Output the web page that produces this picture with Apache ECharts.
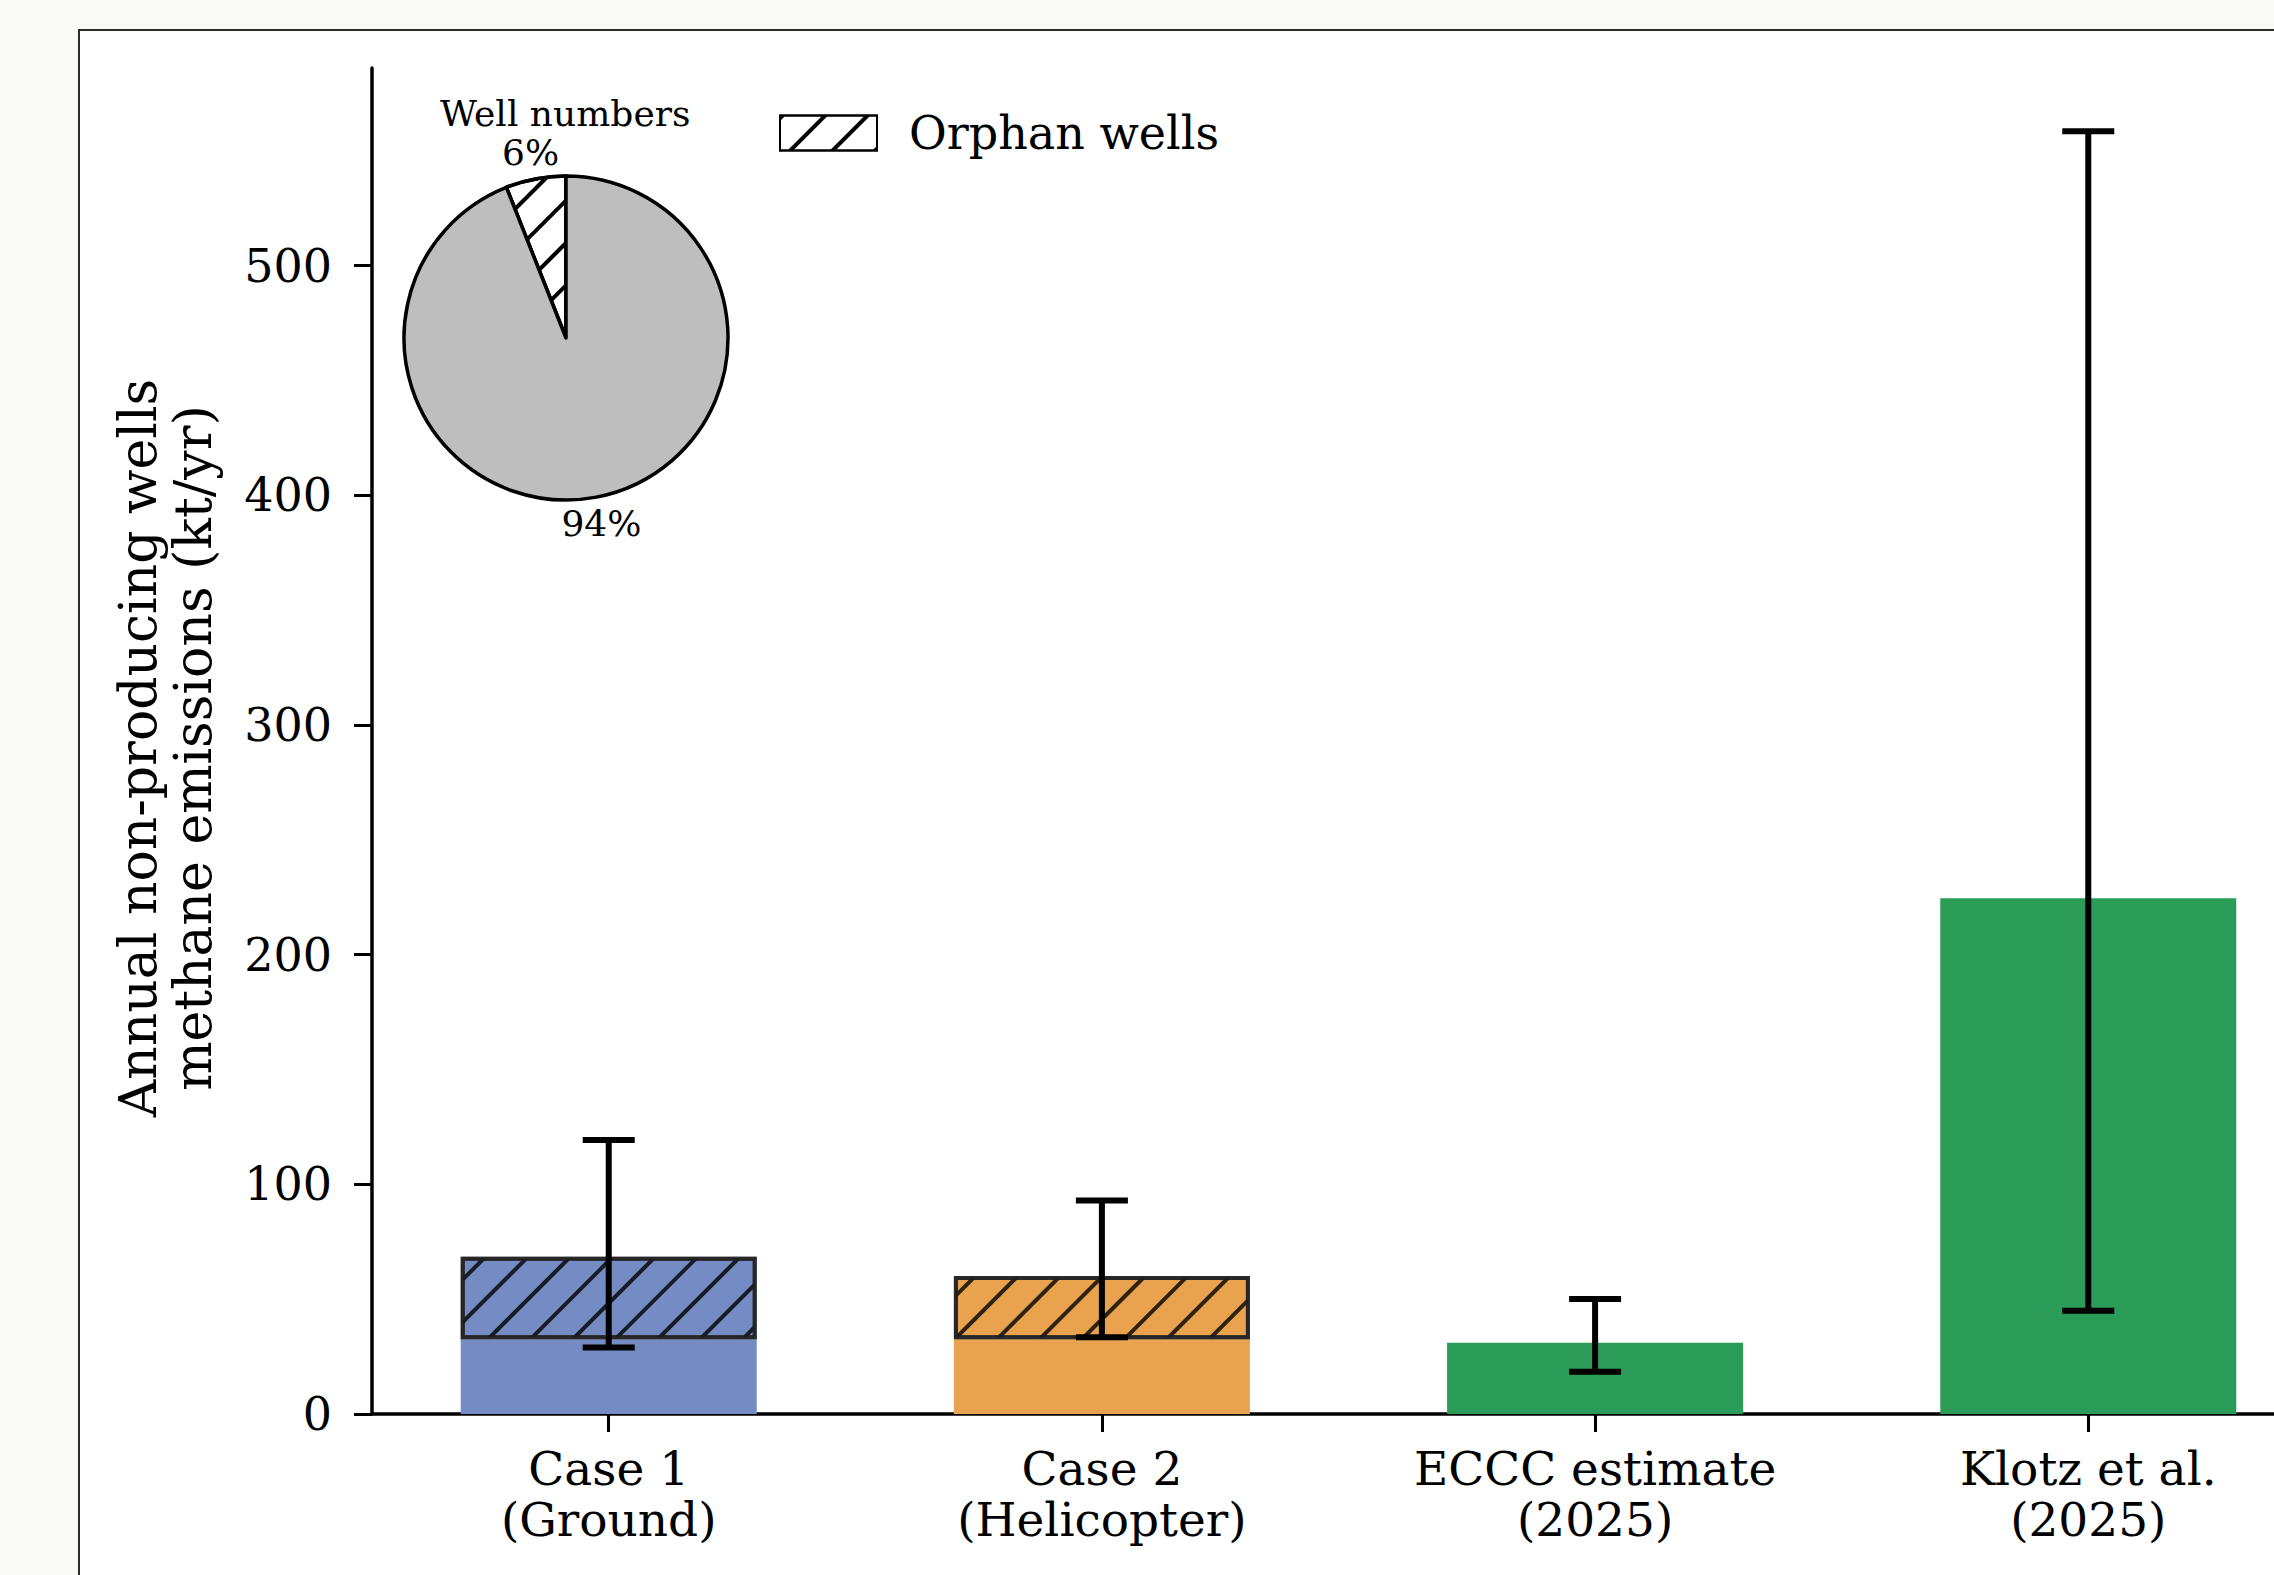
<!DOCTYPE html>
<html>
<head>
<meta charset="utf-8">
<script src="https://cdn.jsdelivr.net/npm/echarts@6/dist/echarts.min.js"></script>
<style>
  html, body { margin: 0; padding: 0; width: 2274px; height: 1575px; overflow: hidden; background: #f9f9f7; }
  #panel { position: absolute; left: 78px; top: 29px; right: 0; bottom: 0; background: #ffffff;
           border-left: 2px solid #2b2b2b; border-top: 2px solid #2b2b2b; }
  /* the plot runs past the right edge of the page, so the canvas is wider than the window */
  #chart { position: absolute; left: 0; top: 0; width: 2340px; height: 1575px; }
</style>
</head>
<body>
<div id="panel"></div>
<div id="chart"></div>
<script>
// Annual methane emissions from non-producing wells (kt/yr)
const categories = ['Case 1\n(Ground)', 'Case 2\n(Helicopter)', 'ECCC estimate\n(2025)', 'Klotz et al.\n(2025)'];
const nonOrphanEmissions = [32.5, 32.5, 31, 224.5];
const orphanEmissions = [36, 27.6, null, null];
const errorLow = [28.9, 33.4, 18.4, 45];
const errorHigh = [119.3, 92.9, 50.1, 558.5];
const barColors = ['#758bc4', '#e9a34e', '#2b9b58', '#2b9b58'];
const yTicks = [0, 100, 200, 300, 400, 500];

// Share of well numbers (%)
const wellShareNames = ['Orphan', 'Non-orphan'];
const wellShares = [6, 94];

const FONT = 'DejaVu Serif';

function hatch(color) {
  return { symbol: 'rect', symbolSize: 1, dashArrayX: [1, 0], dashArrayY: [4, 26],
           rotation: -Math.PI / 4, color: color };
}

const xTickValues = categories.map((_, i) => i);

const chart = echarts.init(document.getElementById('chart'), null, { renderer: 'svg' });

chart.setOption({
  animation: false,
  backgroundColor: 'transparent',
  textStyle: { fontFamily: FONT },
  grid: { left: 372, top: 68, width: 1953, height: 1346, containLabel: false },
  legend: {
    data: ['Orphan wells'],
    left: 779, top: 110, padding: 0,
    itemWidth: 97, itemHeight: 35, icon: 'rect',
    selectedMode: false,
    textStyle: { fontFamily: FONT, fontSize: 46, color: '#000', padding: [0, 0, 0, 27] }
  },
  graphic: [{
    type: 'text', left: 440, top: 95, z: 10,
    style: { text: 'Well numbers', fontFamily: FONT, fontSize: 36, lineHeight: 36, fill: '#000' }
  }],
  xAxis: {
    type: 'value', min: -0.48, max: 3.48,
    splitLine: { show: false },
    axisLine: { show: true, onZero: false, lineStyle: { color: '#000', width: 3.5 } },
    axisTick: { show: true, customValues: xTickValues, length: 18, lineStyle: { color: '#000', width: 3 } },
    axisLabel: {
      customValues: xTickValues, margin: 29,
      formatter: v => categories[Math.round(v)],
      fontFamily: FONT, fontSize: 47, lineHeight: 51, color: '#000', align: 'center'
    }
  },
  yAxis: {
    type: 'value', min: 0, max: 586,
    name: 'Annual non-producing wells\nmethane emissions (kt/yr)',
    nameLocation: 'middle', nameGap: 152, nameRotate: 90,
    nameTextStyle: { fontFamily: FONT, fontSize: 52, lineHeight: 55, color: '#000', padding: [0, 14, 0, 0] },
    splitLine: { show: false },
    axisLine: { show: true, onZero: false, lineStyle: { color: '#000', width: 3.5 } },
    axisTick: { show: true, customValues: yTicks, length: 18, lineStyle: { color: '#000', width: 3 } },
    axisLabel: { customValues: yTicks, margin: 40, fontFamily: FONT, fontSize: 46, color: '#000' }
  },
  series: [
    {
      // value first, so the stack is built on the emission values
      name: 'Non-orphan wells', type: 'bar', stack: 'total', barWidth: 296,
      encode: { x: 1, y: 0 },
      data: nonOrphanEmissions.map((v, i) => ({ value: [v, i], itemStyle: { color: barColors[i] } })),
      emphasis: { disabled: true }, z: 2
    },
    {
      name: 'Orphan wells', type: 'bar', stack: 'total', barWidth: 296,
      encode: { x: 1, y: 0 },
      itemStyle: { color: '#ffffff', borderColor: '#000', borderWidth: 3, decal: hatch('#000') },
      data: orphanEmissions.map((v, i) => v == null ? { value: ['-', i] } : ({
        value: [v, i],
        itemStyle: { color: barColors[i], borderColor: 'rgba(35,35,35,0.85)', borderWidth: 4,
                     decal: hatch('rgba(0,0,0,0.8)') }
      })),
      emphasis: { disabled: true }, z: 3
    },
    {
      name: 'Uncertainty', type: 'custom', z: 5, silent: true,
      data: errorLow.map((lo, i) => [i, lo, errorHigh[i]]),
      encode: { x: 0, y: [1, 2] },
      renderItem: function (params, api) {
        const x = api.value(0);
        const lo = api.coord([x, api.value(1)]);
        const hi = api.coord([x, api.value(2)]);
        const cap = 26;
        const style = { stroke: '#000', lineWidth: 6 };
        return {
          type: 'group',
          children: [
            { type: 'line', shape: { x1: lo[0], y1: lo[1], x2: hi[0], y2: hi[1] }, style },
            { type: 'line', shape: { x1: lo[0] - cap, y1: lo[1], x2: lo[0] + cap, y2: lo[1] }, style },
            { type: 'line', shape: { x1: hi[0] - cap, y1: hi[1], x2: hi[0] + cap, y2: hi[1] }, style }
          ]
        };
      }
    },
    {
      name: 'Well numbers', type: 'pie', center: [566, 338], radius: 162,
      startAngle: 90, clockwise: false, silent: true,
      label: { show: false }, labelLine: { show: false },
      emphasis: { disabled: true },
      data: wellShares.map((v, i) => ({
        name: wellShareNames[i], value: v,
        itemStyle: i === 0
          ? { color: '#ffffff', borderColor: '#000', borderWidth: 3.5, decal: hatch('#000') }
          : { color: '#bebebe', borderColor: '#000', borderWidth: 3.5 }
      }))
    },
    {
      name: 'Well share labels', type: 'pie', center: [566, 338], radius: [176, 196],
      startAngle: 90, clockwise: false, silent: true,
      itemStyle: { color: 'rgba(0,0,0,0)', borderWidth: 0 },
      label: { show: true, position: 'inside', formatter: '{d}%', fontFamily: FONT, fontSize: 36,
               lineHeight: 36, color: '#000' },
      labelLine: { show: false },
      emphasis: { disabled: true },
      data: wellShares.map((v, i) => ({ name: wellShareNames[i], value: v }))
    }
  ]
});
</script>
</body>
</html>
